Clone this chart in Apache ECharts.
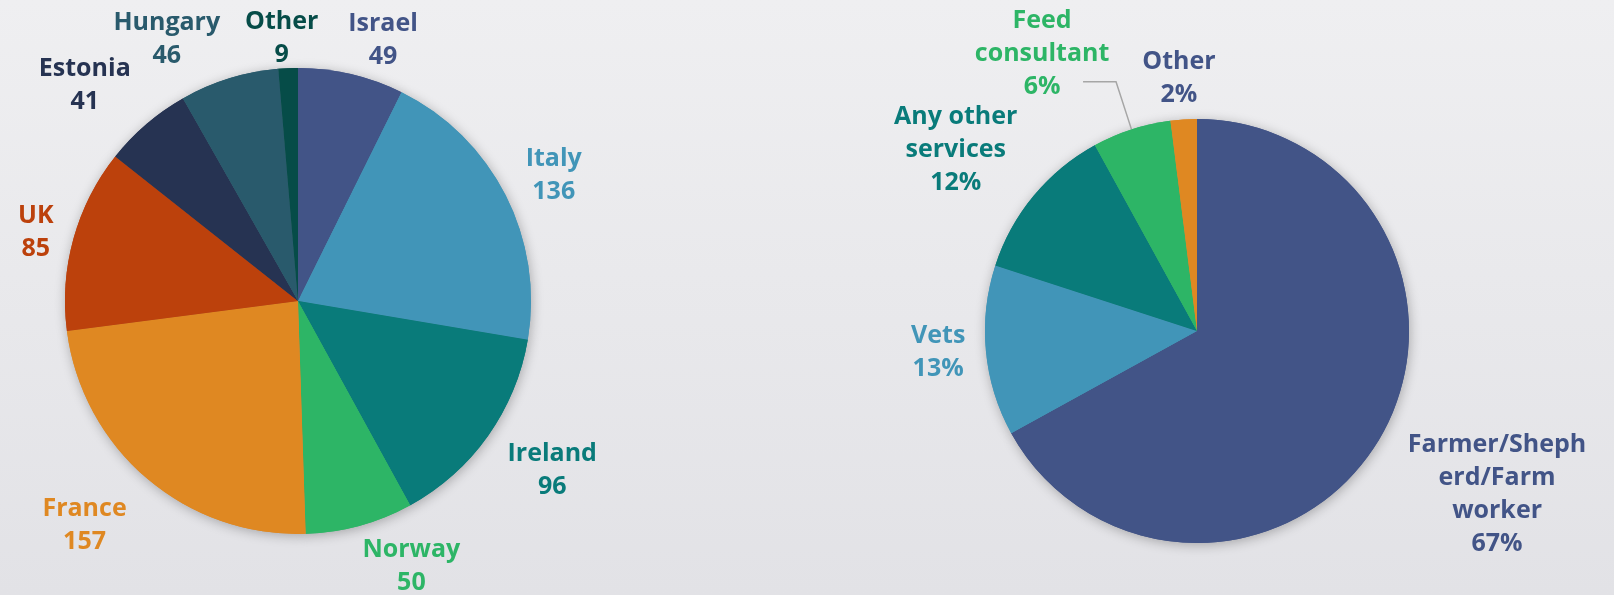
<!DOCTYPE html>
<html>
<head>
<meta charset="utf-8">
<script src="https://cdn.jsdelivr.net/npm/echarts@6/dist/echarts.min.js"></script>
<style>
  html, body { margin: 0; padding: 0; width: 1614px; height: 595px; overflow: hidden; }
  #chart { width: 1614px; height: 595px; }
</style>
</head>
<body>
<div id="chart"></div>
<script>
// Respondents by country
const countries = ['Israel', 'Italy', 'Ireland', 'Norway', 'France', 'UK', 'Estonia', 'Hungary', 'Other'];
const countryCounts = [49, 136, 96, 50, 157, 85, 41, 46, 9];

// Respondents by role (%)
const roles = ['Farmer/Shepherd/Farm worker', 'Vets', 'Any other services', 'Feed consultant', 'Other'];
const rolePercents = [67, 13, 12, 6, 2];

// Styling
const countryColors = ['#425487', '#4195b8', '#097b7a', '#2db566', '#df8822', '#bc410c', '#263352', '#295a6c', '#064c48'];
const roleColors = ['#425487', '#4195b8', '#097b7a', '#2db566', '#df8822'];
const roleLabelColors = ['#425487', '#4195b8', '#097b7a', '#2db566', '#425487'];

// Label placement: distance beyond the rim, then a small nudge
const countryLabelGap = [48, 53, 69, 52, 75, 39, 76, 65, 35];
const countryLabelShift = [[16, 13], [-4, 4], [3, -5], [33, -9], [-9, -10], [5, 4], [-7, 19], [-38, 23], [0, 5]];
const roleLabelGap = [125, 49, 92, 50, 44];
const roleLabelShift = [[5, -8], [6, -3], [-2, 13], [-36, -28], [3, 3]];
const roleLabelWidth = [180, 150, 160, 150, 150];

const FONT_FAMILY = '"Open Sans", "Noto Sans", sans-serif';
const FONT_SIZE = 25;

// Wrap text at spaces; words wider than the box are split by character
const measureCtx = document.createElement('canvas').getContext('2d');
measureCtx.font = 'bold ' + FONT_SIZE + 'px ' + FONT_FAMILY;
function wrapText(text, maxWidth) {
  const lines = [];
  let line = '';
  text.split(' ').forEach(word => {
    const candidate = line ? line + ' ' + word : word;
    if (measureCtx.measureText(candidate).width <= maxWidth) {
      line = candidate;
      return;
    }
    if (line) { lines.push(line); line = ''; }
    let chunk = '';
    for (const ch of word) {
      if (measureCtx.measureText(chunk + ch).width > maxWidth && chunk) {
        lines.push(chunk);
        chunk = ch;
      } else {
        chunk += ch;
      }
    }
    line = chunk;
  });
  if (line) lines.push(line);
  return lines.join('\n');
}

function labelStyle(color) {
  return {
    show: true,
    position: 'outside',
    color: color,
    fontFamily: FONT_FAMILY,
    fontWeight: 'bold',
    fontSize: FONT_SIZE,
    lineHeight: 33,
    align: 'center'
  };
}

const countryData = countries.map((name, i) => ({
  name: name,
  value: countryCounts[i],
  itemStyle: { color: countryColors[i] },
  label: labelStyle(countryColors[i]),
  labelLine: { show: false, length: countryLabelGap[i], length2: 0 }
}));

const roleData = roles.map((name, i) => ({
  name: name,
  value: rolePercents[i],
  itemStyle: { color: roleColors[i] },
  label: labelStyle(roleLabelColors[i]),
  labelLine: name === 'Feed consultant'
    ? { show: true, length: roleLabelGap[i], length2: 33, lineStyle: { color: '#a6a6a6', width: 1.5 } }
    : { show: false, length: roleLabelGap[i], length2: 0 }
}));

const shadowStyle = {
  shadowBlur: 12,
  shadowColor: 'rgba(0,0,0,0.28)',
  shadowOffsetX: 1,
  shadowOffsetY: 2
};

// Identical pie drawn underneath to cast a single soft shadow
function shadowLayer(data, center, radius) {
  return {
    type: 'pie',
    silent: true,
    z: 1,
    center: center,
    radius: radius,
    startAngle: 90,
    clockwise: true,
    label: { show: false },
    labelLine: { show: false },
    itemStyle: shadowStyle,
    data: data.map(d => ({ name: d.name, value: d.value, itemStyle: d.itemStyle, label: { show: false }, labelLine: { show: false } }))
  };
}

const chart = echarts.init(document.getElementById('chart'), null, { renderer: 'canvas' });

chart.setOption({
  animation: false,
  backgroundColor: {
    type: 'linear', x: 0, y: 0, x2: 0, y2: 1,
    colorStops: [
      { offset: 0, color: '#efeff1' },
      { offset: 1, color: '#e2e2e6' }
    ]
  },
  series: [
    shadowLayer(countryData, [298, 301], 233),
    shadowLayer(roleData, [1197, 331], 212),
    {
      type: 'pie',
      z: 2,
      center: [298, 301],
      radius: 233,
      startAngle: 90,
      clockwise: true,
      avoidLabelOverlap: false,
      itemStyle: { borderWidth: 0 },
      label: { formatter: '{b}\n{c}' },
      labelLayout: function (p) {
        const s = countryLabelShift[p.dataIndex];
        return { align: 'center', dx: s[0], dy: s[1] };
      },
      data: countryData
    },
    {
      type: 'pie',
      z: 2,
      center: [1197, 331],
      radius: 212,
      startAngle: 90,
      clockwise: true,
      avoidLabelOverlap: false,
      itemStyle: { borderWidth: 0 },
      label: {
        formatter: p => wrapText(p.name, roleLabelWidth[p.dataIndex]) + '\n' + p.value + '%'
      },
      labelLayout: function (p) {
        const s = roleLabelShift[p.dataIndex];
        return { align: 'center', dx: s[0], dy: s[1] };
      },
      data: roleData
    }
  ]
});
</script>
</body>
</html>
